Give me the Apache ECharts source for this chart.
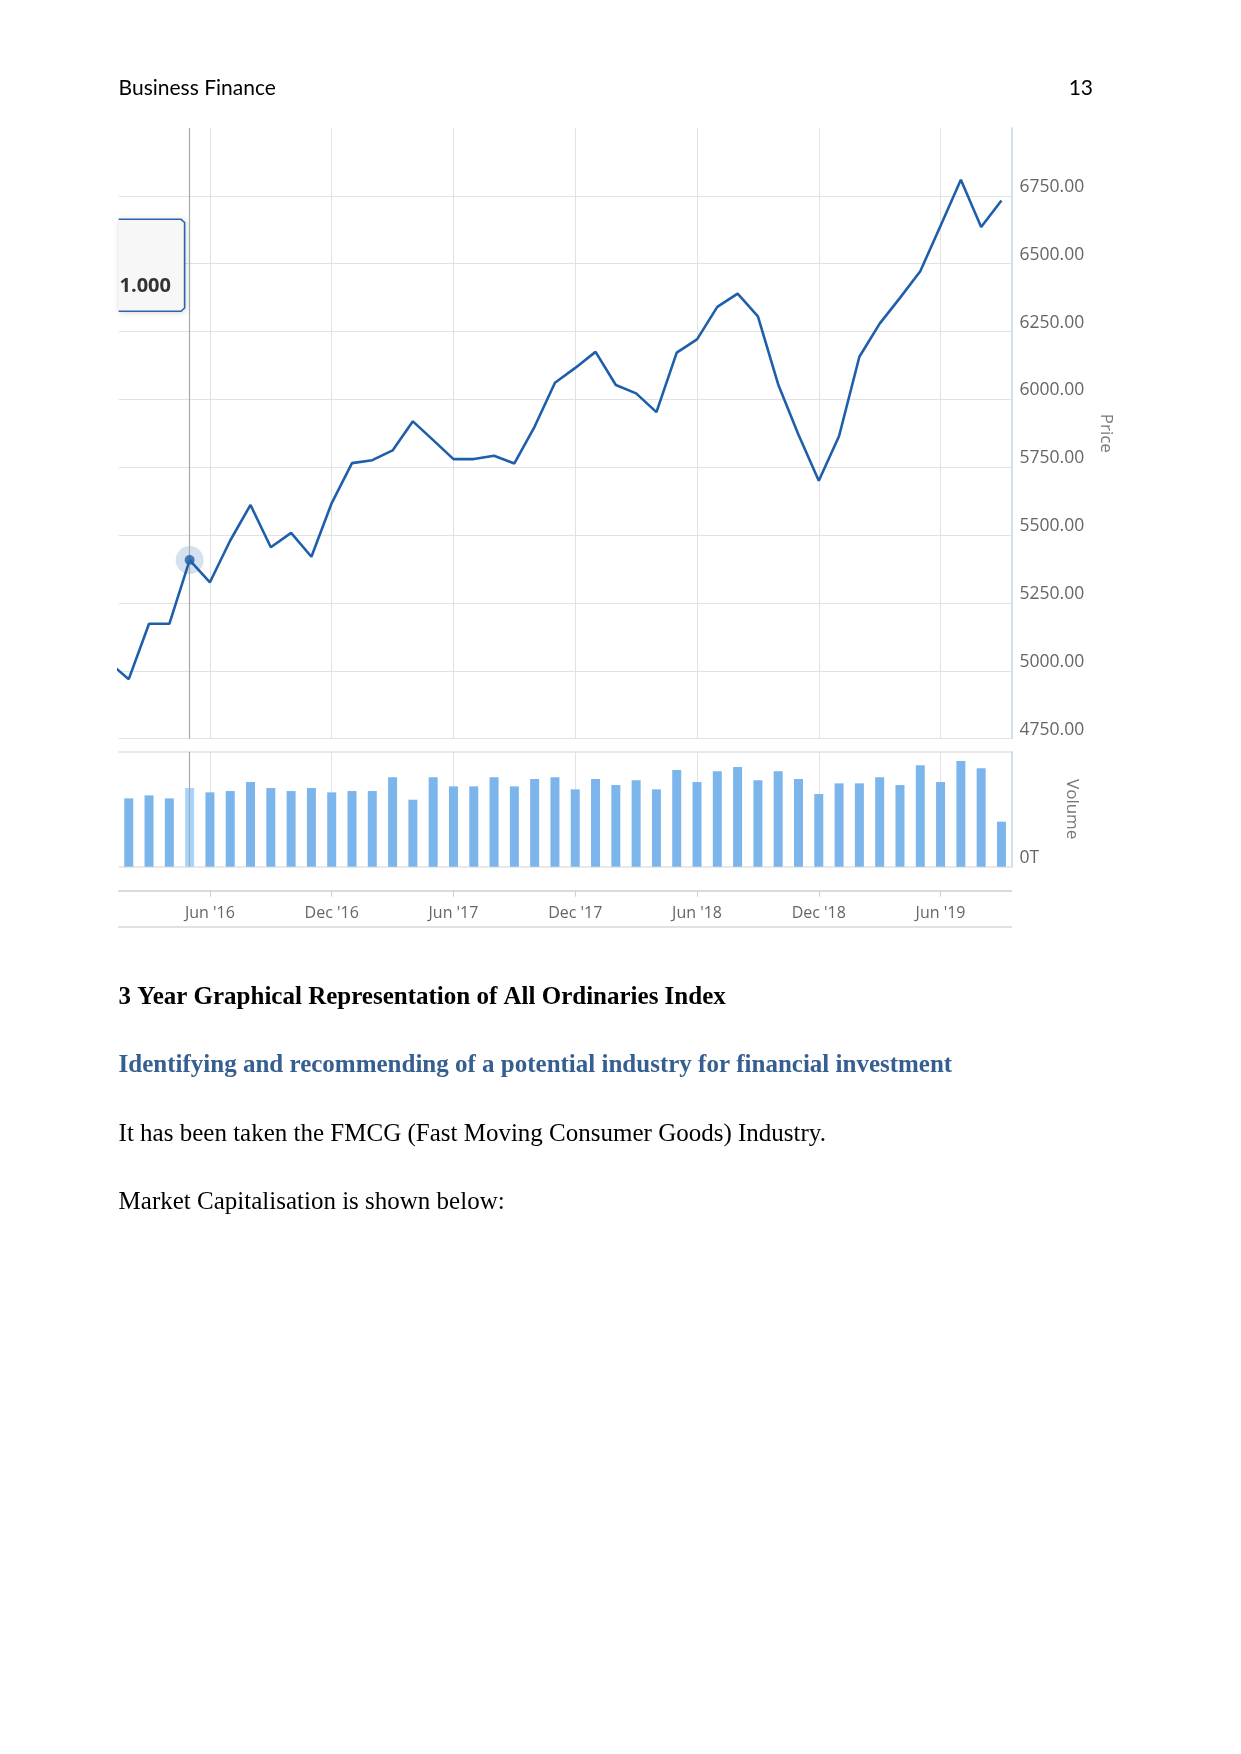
<!DOCTYPE html>
<html><head><meta charset="utf-8">
<script src="https://cdn.jsdelivr.net/npm/echarts@6/dist/echarts.min.js"></script>
<style>html,body{margin:0;padding:0;background:#fff}#c{width:1241px;height:1754px}</style>
</head><body><div id="c"></div>
<script>
// ---- data ----
const months = ['2016-01','2016-02','2016-03','2016-04','2016-05','2016-06','2016-07','2016-08','2016-09','2016-10','2016-11','2016-12',
  '2017-01','2017-02','2017-03','2017-04','2017-05','2017-06','2017-07','2017-08','2017-09','2017-10','2017-11','2017-12',
  '2018-01','2018-02','2018-03','2018-04','2018-05','2018-06','2018-07','2018-08','2018-09','2018-10','2018-11','2018-12',
  '2019-01','2019-02','2019-03','2019-04','2019-05','2019-06','2019-07','2019-08','2019-09'];
const prices = [5033,4969,5173,5173,5408,5326,5480,5611,5455,5508,5420,5618,
  5765,5776,5812,5919,5850,5780,5780,5792,5764,5900,6061,6116,
  6175,6053,6022,5953,6172,6221,6341,6390,6306,6055,5870,5700,
  5865,6157,6279,6374,6472,6640,6809,6635,6733];
const volumes = [null,205,214,205,236,223,227,254,236,227,236,223,
  227,227,268,201,268,241,241,268,241,263,268,232,
  263,245,259,232,290,254,286,299,259,286,263,218,
  250,250,268,245,304,254,317,295,135];
const tickMonths = ['2016-06','2016-12','2017-06','2017-12','2018-06','2018-12','2019-06'];
const tickLabels = ["Jun '16","Dec '16","Jun '17","Dec '17","Jun '18","Dec '18","Jun '19"];
const priceTickStep = 250;
const highlightMonth = '2016-05';
const tooltipText = '1.000';

// ---- build ----
const hi = months.indexOf(highlightMonth);
const tickIdx = tickMonths.map(m => months.indexOf(m));
const labelOf = {}; tickIdx.forEach((v,i)=>labelOf[v]=tickLabels[i]);
const LEFT = 118.6, RIGHT = 1241 - 1011.6;
const GRID = '#e2e2e2', AXIS = '#c4d2e6', LINE = '#1e5eaa', BAR = '#7cb5ec', BAR_HI = '#a6d4ff';
const LBL = {color:'#666', fontFamily:'Open Sans', fontSize:17.5};
const xMin = 0.5, xMax = months.length - 0.5;
const CROSS = {silent:true, symbol:'none', label:{show:false}, animation:false,
  lineStyle:{color:'#a8a8a8', width:1.2, type:'solid'}, data:[{xAxis:hi}]};

const chart = echarts.init(document.getElementById('c'), null, {renderer:'canvas'});
const xCommon = {type:'value', min:xMin, max:xMax, axisLine:{show:false},
  axisTick:{show:false, customValues:tickIdx}, axisLabel:{show:false, customValues:tickIdx},
  splitLine:{show:true, lineStyle:{color:GRID, width:1}}};
chart.setOption({
  animation:false,
  grid:[
    {left:LEFT, right:RIGHT, top:128, height:610.6},
    {left:LEFT, right:RIGHT, top:751.7, height:115},
    {left:LEFT, right:RIGHT, top:890.7, height:36.3}
  ],
  xAxis:[
    Object.assign({gridIndex:0}, xCommon),
    Object.assign({gridIndex:1}, xCommon),
    {gridIndex:2, type:'value', min:xMin, max:xMax, position:'top',
      axisLine:{show:true, onZero:false, lineStyle:{color:'#cfcfcf', width:1.5}},
      axisTick:{show:true, inside:true, length:6, customValues:tickIdx, lineStyle:{color:'#cfcfcf'}},
      axisLabel:{show:true, inside:true, margin:15, customValues:tickIdx, formatter:v=>labelOf[Math.round(v)]||'', ...LBL, fontSize:16},
      splitLine:{show:false}},
    {gridIndex:2, type:'value', min:xMin, max:xMax, position:'bottom',
      axisLine:{show:true, onZero:false, lineStyle:{color:'#d8d8d8', width:1.5}},
      axisTick:{show:false}, axisLabel:{show:false}, splitLine:{show:false}}
  ],
  yAxis:[
    {gridIndex:0, type:'value', position:'right', min:4750, max:7000, interval:priceTickStep,
      axisLine:{show:true, lineStyle:{color:AXIS, width:1.5}}, axisTick:{show:false},
      axisLabel:{...LBL, margin:8, verticalAlign:'bottom', showMaxLabel:false, formatter:v=>v.toFixed(2)},
      splitLine:{show:true, showMaxLine:false, lineStyle:{color:GRID, width:1}},
      name:'Price', nameLocation:'middle', nameRotate:-90, nameGap:86,
      nameTextStyle:{color:'#777', fontFamily:'Open Sans', fontSize:17}},
    {gridIndex:1, type:'value', position:'right', min:0, max:345, interval:345,
      axisLine:{show:true, lineStyle:{color:AXIS, width:1.5}}, axisTick:{show:false},
      axisLabel:{...LBL, margin:8, verticalAlign:'bottom', formatter:v=>v===0?'0T':''},
      splitLine:{show:true, lineStyle:{color:GRID, width:1.5}},
      name:'Volume', nameLocation:'middle', nameRotate:-90, nameGap:52,
      nameTextStyle:{color:'#777', fontFamily:'Open Sans', fontSize:17}},
    {gridIndex:2, type:'value', show:false, min:0, max:1}
  ],
  series:[
    {type:'line', xAxisIndex:0, yAxisIndex:0, z:1, data:[], markLine:CROSS},
    {type:'line', xAxisIndex:1, yAxisIndex:1, z:1, data:[], markLine:CROSS},
    {type:'line', xAxisIndex:0, yAxisIndex:0, z:3, showSymbol:false, clip:true,
      data:months.map((m,i)=>[i, prices[i]]),
      lineStyle:{color:LINE, width:2.6}, itemStyle:{color:LINE}},
    {type:'scatter', xAxisIndex:0, yAxisIndex:0, z:4, symbolSize:28,
      itemStyle:{color:'rgba(40,100,170,0.24)'}, data:[[hi, prices[hi]]]},
    {type:'scatter', xAxisIndex:0, yAxisIndex:0, z:5, symbolSize:10,
      itemStyle:{color:LINE}, data:[[hi, prices[hi]]]},
    {type:'bar', xAxisIndex:1, yAxisIndex:1, z:3, barWidth:9,
      data:months.map((m,i)=> i===hi ? {value:[i, volumes[i]], itemStyle:{color:BAR_HI}} : [i, volumes[i]]),
      itemStyle:{color:BAR}}
  ],
  graphic:[
    {type:'rect', shape:{x:LEFT, y:219.3, width:66, height:92, r:[0,4,4,0]},
      style:{fill:'#f7f7f7', shadowBlur:6, shadowColor:'rgba(0,0,0,0.18)', shadowOffsetX:1, shadowOffsetY:1}, z:10},
    {type:'polyline', shape:{points:[[LEFT,219.3],[181,219.3],[184.6,222.5],[184.6,308],[181,311.3],[LEFT,311.3]]},
      style:{stroke:'#2a64b0', lineWidth:1.6, fill:null}, z:11},
    {type:'text', x:119.5, y:286, z:12, style:{text:tooltipText, fill:'#333', fontFamily:'Open Sans', fontWeight:'bold', fontSize:20, verticalAlign:'middle'}},
    {type:'text', x:118.6, y:88.4, style:{text:'Business Finance', fill:'#000', fontFamily:'Lato', fontSize:21, verticalAlign:'middle'}},
    {type:'text', x:1093, y:88.4, style:{text:'13', fill:'#000', fontFamily:'Lato', fontSize:21, align:'right', verticalAlign:'middle'}},
    {type:'text', x:118.6, y:998, style:{text:'3 Year Graphical Representation of All Ordinaries Index', fill:'#000', fontFamily:'Liberation Serif', fontWeight:'bold', fontSize:25, verticalAlign:'middle'}},
    {type:'text', x:118.6, y:1066, style:{text:'Identifying and recommending of a potential industry for financial investment', fill:'#365f91', fontFamily:'Liberation Serif', fontWeight:'bold', fontSize:25, verticalAlign:'middle'}},
    {type:'text', x:118.6, y:1134, style:{text:'It has been taken the FMCG (Fast Moving Consumer Goods) Industry.', fill:'#000', fontFamily:'Liberation Serif', fontSize:25, verticalAlign:'middle'}},
    {type:'text', x:118.6, y:1202.5, style:{text:'Market Capitalisation is shown below:', fill:'#000', fontFamily:'Liberation Serif', fontSize:25, verticalAlign:'middle'}}
  ]
});
</script></body></html>
